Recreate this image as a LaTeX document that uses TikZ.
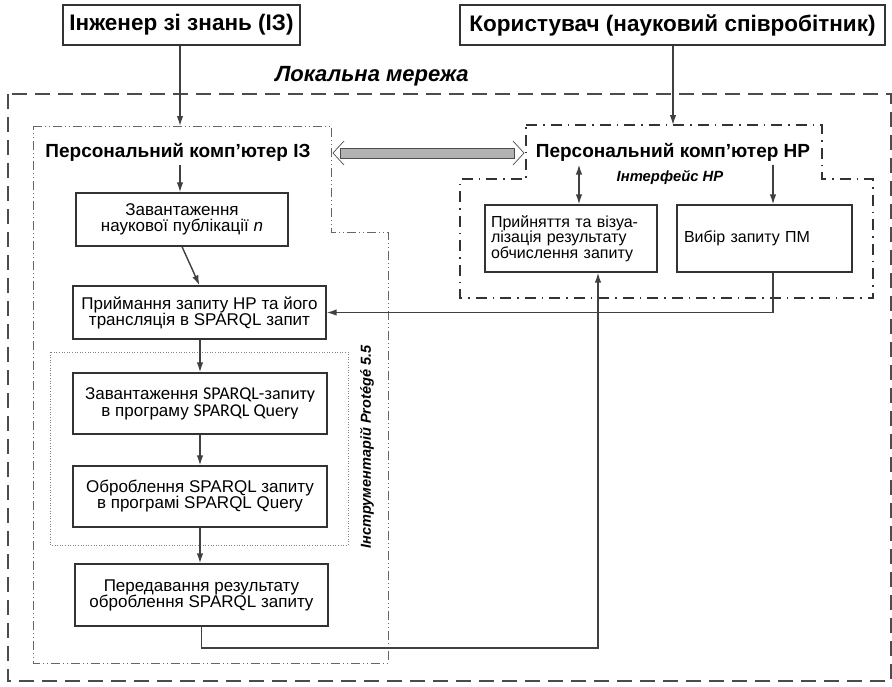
\documentclass[tikz,border=0pt]{standalone}
\usepackage{fontspec}
\setmainfont{Liberation Sans}
\newfontfamily\calfont{Carlito}
\usetikzlibrary{calc,arrows.meta}
\tikzset{
	box/.style={draw=black!80, line width=1.3pt, align=center, inner sep=2pt, font=\fontsize{17}{16}\selectfont},
	headbox/.style={draw=black!80, line width=1.2pt, font=\fontsize{22.5}{24}\selectfont\bfseries, minimum height=40pt},
	arr/.style={draw=black!75, line width=1.4pt, -{Latex[length=10pt,width=6.5pt]}},
	netline/.style={draw=black!70, line width=1.2pt, dash pattern=on 15pt off 8pt},
	izline/.style={draw=black!60, line width=0.8pt, dash pattern=on 9pt off 3pt on 1pt off 3pt on 1pt off 3pt},
	hrline/.style={draw=black!80, line width=1.5pt, dash pattern=on 11pt off 6pt on 1.5pt off 6pt},
	protline/.style={draw=black!50, line width=0.6pt, dotted},
}

\begin{document}
\begin{tikzpicture}[x=1pt, y=-1pt]
		%%%%% START %%%%%
		\useasboundingbox (0,0) rectangle (892,686);
		
		\draw[netline] (8,94) rectangle (891,681);
		\draw[izline] (33,126) -- (331,126) -- (331,232) -- (388,232) -- (388,663) -- (33,663) -- cycle;
		\draw[hrline] (526,125) -- (822,125) -- (822,179) -- (873,179) -- (873,298) -- (460,298) -- (460,179) -- (526,179) -- cycle;
		\draw[protline] (50,352) rectangle (348,545);
		
		\node[headbox, minimum width=237pt] (iz) at (181.5,25) {Інженер зі знань (ІЗ)};
		\node[headbox, minimum width=425pt] (user) at (672.5,25) {Користувач (науковий співробітник)};
		\node[font=\fontsize{22}{24}\selectfont\bfseries\itshape] (lan) at (372,76) {Локальна мережа};
		
		\node[font=\fontsize{19}{20}\selectfont\bfseries] (pcIZ) at (178,152) {Персональний комп’ютер ІЗ};
		\node[font=\fontsize{19}{20}\selectfont\bfseries] (pcHR) at (673,152) {Персональний комп’ютер НР};
		\node[font=\fontsize{14.8}{16}\selectfont\bfseries\itshape] (ifHR) at (670,177) {Інтерфейс НР};
		\node[font=\fontsize{14.5}{16}\selectfont\bfseries\itshape, rotate=90] (prot) at (367,447) {Інструментарій Protégé 5.5};
		
		\node[box, minimum width=212pt, minimum height=53pt] (load) at (182,219.5) {Завантаження\\наукової публікації \textit{n}};
		\node[box, minimum width=253pt, minimum height=53pt] (trans) at (199.5,312.5) {Приймання запиту НР та його\\трансляція в SPARQL запит};
		\node[box, minimum width=254pt, minimum height=61pt] (sload) at (200,403.5) {Завантаження {\calfont\fontsize{18}{18}\selectfont SPARQL-запиту}\\[1pt]в програму {\calfont\fontsize{18}{18}\selectfont SPARQL Query}};
		\node[box, minimum width=254pt, minimum height=61pt] (sproc) at (200,496.5) {Оброблення SPARQL запиту\\в програмі SPARQL Query};
		\node[box, minimum width=253pt, minimum height=62pt] (sres) at (201.5,595) {Передавання результату\\оброблення SPARQL запиту};
		\node[box, font=\fontsize{16}{15.5}\selectfont, align=left, text width=160pt, inner xsep=6pt, minimum height=67pt] (accept) at (571,238.5) {Прийняття та візуа-\\лізація результату\\обчислення запиту};
		\node[box, font=\fontsize{16}{15.5}\selectfont, align=left, text width=161pt, inner xsep=7pt, minimum height=67pt] (choice) at (764.5,238.5) {Вибір запиту ПМ};
		
		\coordinate (izin) at (180,126);
		\coordinate (hrin) at (673,125);
		\coordinate (ret) at (598,648);
		\coordinate (selx) at (773,0);
		\coordinate (accx) at (579,0);
		
		\draw[arr] (iz.south -| izin) -- (izin);
		\draw[arr] (user.south -| hrin) -- (hrin);
		\draw[arr] (pcIZ.south -| izin) -- (load.north -| izin);
		\draw[arr] (load.south) -- (trans.north);
		\draw[arr] (trans.south -| sload) -- (sload.north);
		\draw[arr] (sload) -- (sproc);
		\draw[arr] (sproc.south) -- (sres.north -| sproc);
		\draw[arr] (sres.south) |- (ret) -- (ret |- accept.south);
		\draw[arr] (choice.south -| selx) |- (trans.east);
		\draw[arr] (pcHR.south -| selx) -- (choice.north -| selx);
		\draw[arr, {Latex[length=10pt,width=6.5pt]}-{Latex[length=10pt,width=6.5pt]}] (pcHR.south -| accx) -- (accept.north -| accx);
		
		\draw[black!70, line width=0.8pt, fill=black!30] (340,148) rectangle (514,158);
		\draw[black!70, line width=0.7pt] (344,141) -- (333,153) -- (344,165);
		\draw[black!70, line width=0.7pt] (513,141) -- (524,153) -- (513,165);
		
		%%%%% END %%%%%
	\end{tikzpicture}
\end{document}
